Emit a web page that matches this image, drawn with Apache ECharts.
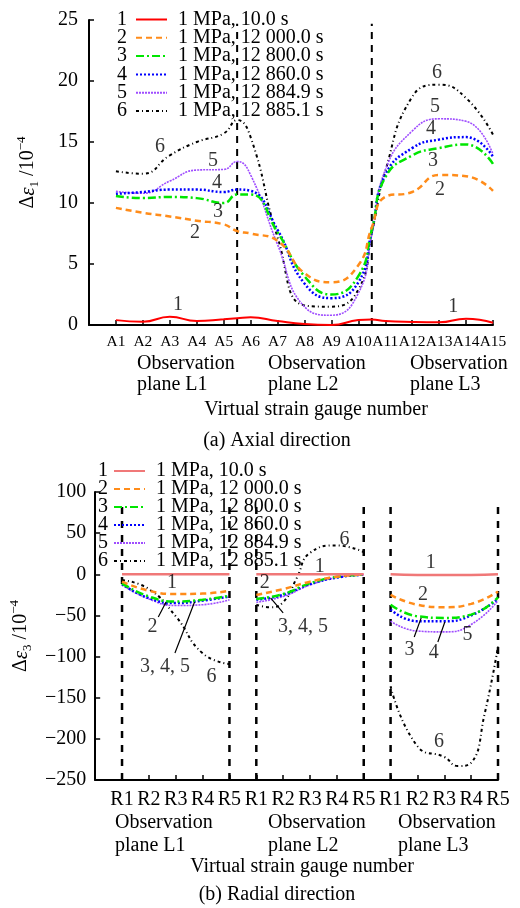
<!DOCTYPE html>
<html>
<head>
<meta charset="utf-8">
<script src="https://cdn.jsdelivr.net/npm/echarts@6/dist/echarts.min.js"></script>
<style>
html, body { margin: 0; padding: 0; background: #fff; }
#chart { width: 520px; height: 908px; }
</style>
</head>
<body>
<div id="chart"></div>
<script>
const FONT = '"Liberation Serif", "Times New Roman", serif';

// Load cases shown in both legends
const caseNames = ['1 MPa, 10.0 s', '1 MPa, 12 000.0 s', '1 MPa, 12 800.0 s', '1 MPa, 12 860.0 s', '1 MPa, 12 884.9 s', '1 MPa, 12 885.1 s'];
const caseNumbers = ['1', '2', '3', '4', '5', '6'];

// (a) Axial strain increment, gauges A1..A15 (x = gauge index; 5.5 and 10.5 are plane boundaries)
const axialTicks = ['A1','A2','A3','A4','A5','A6','A7','A8','A9','A10','A11','A12','A13','A14','A15'];
const axialX  = [1, 2, 3, 4, 5, 5.5, 6, 7, 8, 9, 10, 10.5, 11, 12, 13, 14, 15];
const axial1  = [0.4, 0.27, 0.68, 0.33, 0.47, 0.55, 0.63, 0.33, 0.08, 0.0, 0.4, 0.45, 0.33, 0.25, 0.22, 0.52, 0.19];
const axial2  = [9.6, 9.2, 8.9, 8.55, 8.25, 7.7, 7.5, 6.9, 4.25, 3.5, 4.9, 8.0, 10.5, 10.9, 12.3, 12.2, 11.0];
const axial3  = [10.57, 10.4, 10.5, 10.4, 10.0, 10.7, 10.7, 7.6, 4.0, 2.5, 4.0, 7.8, 12.1, 13.9, 14.5, 14.8, 13.2];
const axial4  = [10.75, 10.9, 11.1, 11.1, 10.9, 11.1, 11.0, 7.8, 3.4, 2.2, 3.5, 7.7, 12.3, 14.5, 15.2, 15.4, 13.8];
const axial5  = [10.95, 10.8, 11.8, 12.7, 12.75, 13.4, 12.3, 6.6, 1.5, 0.8, 2.6, 7.4, 12.7, 15.9, 16.9, 16.7, 14.0];
const axial6  = [12.6, 12.4, 13.9, 15.0, 15.7, 16.8, 15.4, 7.2, 1.6, 1.5, 2.9, 7.5, 12.6, 18.7, 19.7, 18.6, 15.6];
const axialPlaneBounds = [5.5, 10.5];
const axialBoundTop = 24.7;
const axialCurveLabels = [
  [2.64, 14.6, '6'], [4.60, 13.5, '5'], [4.75, 11.7, '4'], [4.79, 9.3, '3'], [3.94, 7.6, '2'], [3.30, 1.64, '1'],
  [12.92, 20.7, '6'], [12.85, 17.9, '5'], [12.70, 16.1, '4'], [12.77, 13.5, '3'], [13.03, 11.1, '2'], [13.52, 1.48, '1']
];

// (b) Radial strain increment, gauges R1..R5 on three planes (x = 1..15)
const radialTicks = ['R1','R2','R3','R4','R5','R1','R2','R3','R4','R5','R1','R2','R3','R4','R5'];
const radialX  = [1, 2, 3, 4, 5, 6, 7, 8, 9, 10, 11, 12, 13, 14, 15];
const radial1  = [0, 0, 0, 0, 0, 0, 0, 0, 0, 0, 0, -1, -1, -1, 0];
const radial2  = [-9, -20, -24, -23.5, -20, -25, -18, -9, -3, 0, -25, -37, -40, -36, -21];
const radial3  = [-11, -27, -33, -31, -26, -30, -24, -11, -3, -0.5, -37, -51, -53, -49, -28];
const radial4  = [-12, -29, -35, -32, -27, -31, -25, -12, -4, -0.5, -43, -57, -57, -50, -30];
const radial5  = [-13, -30, -38, -37, -31, -34, -27, -13, -4, -0.5, -57, -69, -70, -61, -32];
const radial6X = [1, 2, 3, 4, 5, 6, 6.5, 7, 7.5, 8, 9, 10, 11, 12, 13, 13.5, 14, 14.5, 15];
const radial6  = [-7, -18, -51, -96, -109, -37, -40, -34, -5, 26, 35, 27, -136, -209, -222, -233, -229, -170, -88];
const radialPlaneBounds = [1, 5, 6, 10, 11, 15];
const radialBoundTop = 84;
const radialCurveLabels = [
  [2.86, -10.6, '1'], [2.13, -64, '2'], [2.60, -112.7, '3, 4, 5'], [4.33, -124.8, '6'],
  [6.31, -10.6, '2'], [8.36, 8.9, '1'], [7.74, -64, '3, 4, 5'], [9.28, 41.7, '6'],
  [12.5, 13.7, '1'], [12.21, -25.2, '2'], [11.70, -92, '3'], [12.61, -95.6, '4'], [13.86, -73.8, '5'], [12.80, -203.8, '6']
];
const radialLeaders = [
  [[2.64, -33.7], [2.35, -51.9]],
  [[3.70, -33.7], [2.97, -95.6]],
  [[6.53, -28.8], [7.00, -47.0]],
  [[12.14, -53.0], [11.88, -76.2]],
  [[13.02, -58.0], [12.76, -82.3]]
];

const planeNames = ['Observation\nplane L1', 'Observation\nplane L2', 'Observation\nplane L3'];

// Line styles for the six load cases
const lineStyles = [
  { color: '#ff0000', width: 2, type: 'solid' },
  { color: '#ff8c1a', width: 2.5, type: [6, 4] },
  { color: '#00e600', width: 2.5, type: [8, 3, 2, 3] },
  { color: '#0000ff', width: 2.5, type: [2, 2] },
  { color: '#9f4dff', width: 1.6, type: [2, 1] },
  { color: '#000000', width: 2, type: [3, 3, 1, 3] }
];
const radialFirstColor = '#f07878';

// Pair x/y values, breaking the line where the observation plane changes
function planeData(xs, ys) {
  const out = [];
  xs.forEach((x, i) => {
    if (i > 0 && Math.floor((x - 1) / 5) !== Math.floor((xs[i - 1] - 1) / 5)) {
      out.push([(x + xs[i - 1]) / 2, '-']);
    }
    out.push([x, ys[i]]);
  });
  return out;
}
function pairData(xs, ys) { return xs.map((x, i) => [x, ys[i]]); }
function guides(xs, y0, y1) {
  const d = [];
  xs.forEach(x => { d.push([x, y0], [x, y1], [x, '-']); });
  return d;
}
function leaders(list) {
  const d = [];
  list.forEach(seg => { d.push(seg[0], seg[1], [seg[1][0], '-']); });
  return d;
}
const minus = v => (v < 0 ? '\u2212' + Math.abs(v) : String(v));

const axialSets = [axial1, axial2, axial3, axial4, axial5, axial6];
const radialSets = [radial1, radial2, radial3, radial4, radial5, radial6];

const series = [];
axialSets.forEach((ys, i) => {
  series.push({
    name: caseNames[i], type: 'line', xAxisIndex: 0, yAxisIndex: 0,
    data: pairData(axialX, ys), smooth: 0.5, symbol: 'none',
    lineStyle: Object.assign({}, lineStyles[i]), itemStyle: { color: lineStyles[i].color },
    z: 10 - i, silent: true
  });
});
radialSets.forEach((ys, i) => {
  const st = Object.assign({}, lineStyles[i]);
  if (i === 0) { st.color = radialFirstColor; st.width = 2.5; }
  series.push({
    name: 'radial|' + caseNames[i], type: 'line', xAxisIndex: 1, yAxisIndex: 1,
    data: planeData(i === 5 ? radial6X : radialX, ys), smooth: 0.5, symbol: 'none',
    lineStyle: st, itemStyle: { color: st.color }, z: 10 - i, silent: true
  });
});
const guideStyle = { color: '#000', width: 2, type: [7, 6] };
series.push({ type: 'line', xAxisIndex: 0, yAxisIndex: 0, data: guides(axialPlaneBounds, 0, axialBoundTop), symbol: 'none', lineStyle: guideStyle, silent: true, z: 3 });
series.push({ type: 'line', xAxisIndex: 1, yAxisIndex: 1, data: guides(radialPlaneBounds, -250, radialBoundTop), symbol: 'none', lineStyle: { color: '#000', width: 2.5, type: [7, 7] }, silent: true, z: 3 });
series.push({ type: 'line', xAxisIndex: 1, yAxisIndex: 1, data: leaders(radialLeaders), symbol: 'none', lineStyle: { color: '#000', width: 1.2 }, silent: true, z: 20 });

const labelStyle = { show: true, position: 'inside', formatter: p => p.name, fontFamily: FONT, fontSize: 20, color: '#000' };
series.push({ type: 'scatter', xAxisIndex: 0, yAxisIndex: 0, symbolSize: 1, itemStyle: { color: 'rgba(0,0,0,0)' }, silent: true, z: 30,
  data: axialCurveLabels.map(([x, y, t]) => ({ value: [x, y], name: t })), label: labelStyle });
series.push({ type: 'scatter', xAxisIndex: 1, yAxisIndex: 1, symbolSize: 1, itemStyle: { color: 'rgba(0,0,0,0)' }, silent: true, z: 30,
  data: radialCurveLabels.map(([x, y, t]) => ({ value: [x, y], name: t })), label: labelStyle });

const axisLine = { show: true, onZero: false, lineStyle: { color: '#000', width: 2 } };
const axisTick = { show: true, inside: true, length: 5, lineStyle: { color: '#000', width: 1.5 } };
const nameRich = {
  a: { fontFamily: FONT, fontSize: 20, color: '#000' },
  e: { fontFamily: FONT, fontSize: 21, fontStyle: 'italic', color: '#000' },
  s: { fontFamily: FONT, fontSize: 13, color: '#000', verticalAlign: 'bottom', lineHeight: 26 },
  p: { fontFamily: FONT, fontSize: 13, color: '#000', verticalAlign: 'top', lineHeight: 26 }
};

// Legend rows are 20 px tall; a negative gap packs them to the row step
const legendBase = {
  orient: 'vertical', itemWidth: 31, itemHeight: 10, selectedMode: false, padding: 0,
  itemStyle: { opacity: 0 },
  textStyle: { fontFamily: FONT, fontSize: 20, color: '#000', padding: [0, 0, 0, 6] }
};
const axialLegendY = 19.5, axialLegendStep = 18.3;
const radialLegendY = 471, radialLegendStep = 18;

const graphic = [];
caseNumbers.forEach((n, i) => {
  graphic.push({ type: 'text', x: 122, y: axialLegendY + i * axialLegendStep, style: { text: n, fontFamily: FONT, fontSize: 20, fill: '#000', align: 'center', verticalAlign: 'middle' } });
  graphic.push({ type: 'text', x: 103, y: radialLegendY + i * radialLegendStep, style: { text: n, fontFamily: FONT, fontSize: 20, fill: '#000', align: 'center', verticalAlign: 'middle' } });
});
[137, 268, 410].forEach((x, i) => {
  graphic.push({ type: 'text', x: x, y: 353, style: { text: planeNames[i], fontFamily: FONT, fontSize: 20, lineHeight: 21, fill: '#000', align: 'left', verticalAlign: 'top' } });
});
[115, 268, 398].forEach((x, i) => {
  graphic.push({ type: 'text', x: x, y: 811, style: { text: planeNames[i], fontFamily: FONT, fontSize: 20, lineHeight: 23, fill: '#000', align: 'left', verticalAlign: 'top' } });
});
graphic.push({ type: 'text', x: 316, y: 410, style: { text: 'Virtual strain gauge number', fontFamily: FONT, fontSize: 20, fill: '#000', align: 'center', verticalAlign: 'middle' } });
graphic.push({ type: 'text', x: 277, y: 441, style: { text: '(a) Axial direction', fontFamily: FONT, fontSize: 20, fill: '#000', align: 'center', verticalAlign: 'middle' } });
graphic.push({ type: 'text', x: 302, y: 867, style: { text: 'Virtual strain gauge number', fontFamily: FONT, fontSize: 20, fill: '#000', align: 'center', verticalAlign: 'middle' } });
graphic.push({ type: 'text', x: 277, y: 895, style: { text: '(b) Radial direction', fontFamily: FONT, fontSize: 20, fill: '#000', align: 'center', verticalAlign: 'middle' } });

const option = {
  animation: false,
  backgroundColor: '#fff',
  textStyle: { fontFamily: FONT },
  grid: [
    { left: 89, top: 20, width: 404, height: 305 },
    { left: 89, top: 492, width: 409, height: 288 }
  ],
  legend: [
    Object.assign({}, legendBase, { data: caseNames, left: 135, top: axialLegendY - 10, itemGap: axialLegendStep - 20 }),
    Object.assign({}, legendBase, { data: caseNames.map(n => 'radial|' + n), left: 113, top: radialLegendY - 10, itemGap: radialLegendStep - 20,
      formatter: n => n.split('|')[1] })
  ],
  xAxis: [
    { gridIndex: 0, type: 'value', min: 0, max: 15, interval: 1, axisLine, axisTick, splitLine: { show: false },
      axisLabel: { fontFamily: FONT, fontSize: 15.5, color: '#000', margin: 9, showMaxLabel: true, hideOverlap: false,
        formatter: v => (v >= 1 ? axialTicks[v - 1] : '') } },
    { gridIndex: 1, type: 'value', min: 0, max: 15, interval: 1, axisLine, axisTick, splitLine: { show: false },
      axisLabel: { fontFamily: FONT, fontSize: 20, color: '#000', margin: 10, showMaxLabel: true, hideOverlap: false,
        formatter: v => (v >= 1 ? radialTicks[v - 1] : '') } }
  ],
  yAxis: [
    { gridIndex: 0, type: 'value', min: 0, max: 25, interval: 5, axisLine, axisTick, splitLine: { show: false },
      axisLabel: { fontFamily: FONT, fontSize: 20, color: '#000', margin: 11, formatter: minus },
      name: '{a|\u0394}{e|\u03b5}{s|1}{a| /10}{p|\u22124}', nameLocation: 'middle', nameRotate: 90, nameGap: 48,
      nameTextStyle: { fontFamily: FONT, fontSize: 20, color: '#000', rich: nameRich } },
    { gridIndex: 1, type: 'value', min: -250, max: 100, interval: 50, axisLine, axisTick, splitLine: { show: false },
      axisLabel: { fontFamily: FONT, fontSize: 20, color: '#000', margin: 9, formatter: minus },
      name: '{a|\u0394}{e|\u03b5}{s|3}{a| /10}{p|\u22124}', nameLocation: 'middle', nameRotate: 90, nameGap: 61,
      nameTextStyle: { fontFamily: FONT, fontSize: 20, color: '#000', rich: nameRich } }
  ],
  graphic: graphic,
  series: series
};

const chart = echarts.init(document.getElementById('chart'), null, { renderer: 'canvas' });
chart.setOption(option);
</script>
</body>
</html>
